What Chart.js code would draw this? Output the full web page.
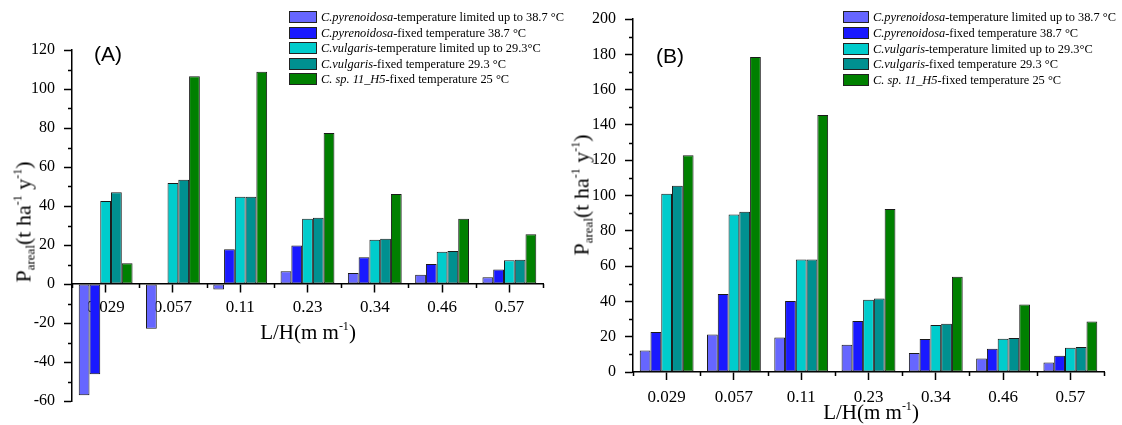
<!DOCTYPE html>
<html>
<head>
<meta charset="utf-8">
<script src="https://cdn.jsdelivr.net/npm/chart.js@4.4.1/dist/chart.umd.min.js"></script>
<style>
  body { margin: 0; background: #fff; }
  #wrap { position: relative; width: 1122px; height: 425px; overflow: hidden; background: #fff; }
  canvas { position: absolute; top: 0; }
  .txt { position: absolute; font-family: 'Liberation Serif', 'Times New Roman', serif; color: #000; white-space: nowrap; line-height: 1; }
  .ytitle { font-size: 22px; transform: translate(-50%, -50%) rotate(-90deg); }
  .xtitle { font-size: 21px; transform: translate(-50%, -50%); }
  .ytitle sub, .xtitle sub { font-size: 13px; vertical-align: -4px; }
  .ytitle sup, .xtitle sup { font-size: 12px; vertical-align: 9px; }
  .panel { position: absolute; font-family: 'Liberation Sans', Arial, sans-serif; font-size: 21px; transform: translate(-50%, -50%); }
  .legend { position: absolute; font-family: 'Liberation Serif', 'Times New Roman', serif; font-size: 12.4px; }
  .legend .row { position: absolute; left: 0; height: 14px; white-space: nowrap; }
  .legend .box { position: absolute; top: 0; width: 27px; height: 12px; border: 1px solid #222; box-sizing: border-box; }
  .legend .lbl { position: absolute; top: -1px; line-height: 14px; }
</style>
</head>
<body>
<div id="wrap">
  <canvas id="chartA" width="561" height="425" style="left:0"></canvas>
  <canvas id="chartB" width="561" height="425" style="left:561px"></canvas>
</div>
<script>
// categories (L/H, m m-1)
const categories = ['0.029', '0.057', '0.11', '0.23', '0.34', '0.46', '0.57'];

// legend text: species (italic) + rest
const speciesNames = ['C.pyrenoidosa', 'C.pyrenoidosa', 'C.vulgaris', 'C.vulgaris', 'C. sp. 11_H5'];
const labelRest = [
  '-temperature limited up to 38.7 \u00B0C',
  '-fixed temperature 38.7 \u00B0C',
  '-temperature limited up to 29.3\u00B0C',
  '-fixed temperature 29.3 \u00B0C',
  '-fixed temperature 25 \u00B0C'
];
const colors = ['#6666FF', '#1919FF', '#00CCCC', '#009090', '#008000'];

// panel (A)
const aPyrLimited = [-57, -22.9, -2.8, 6.5, 5.7, 4.8, 3.4];
const aPyrFixed = [-46.3, 0, 17.8, 19.8, 13.7, 10.2, 7.4];
const aVulLimited = [42.6, 51.8, 44.8, 33.4, 22.7, 16.6, 12.2];
const aVulFixed = [47, 53.4, 44.8, 34, 23.2, 16.9, 12.5];
const aSp = [10.7, 106.5, 108.8, 77.4, 46.1, 33.4, 25.5];

// panel (B)
const bPyrLimited = [12.2, 21.2, 19.6, 15.4, 10.7, 7.7, 5.4];
const bPyrFixed = [22.6, 44.2, 40.2, 28.9, 18.7, 13.2, 9.2];
const bVulLimited = [101, 89.3, 63.7, 40.9, 26.6, 18.9, 13.8];
const bVulFixed = [105.5, 90.8, 63.7, 41.7, 27.3, 19.2, 14.1];
const bSp = [122.8, 178.5, 145.6, 92.3, 54, 38.3, 28.6];

const serif = "'Liberation Serif', 'Times New Roman', serif";

function makeDatasets(series) {
  return series.map((d, i) => ({
    label: speciesNames[i] + labelRest[i],
    data: d,
    backgroundColor: colors[i],
    borderColor: '#1a1a1a',
    borderWidth: 1,
    borderSkipped: false
  }));
}

// small ticks between the labelled ones
const minorTicks = {
  id: 'minorTicks',
  afterDraw(chart) {
    const ctx = chart.ctx;
    const x = chart.scales.x, y = chart.scales.y;
    const base = y.getPixelForValue(0);
    ctx.save();
    ctx.strokeStyle = '#000';
    ctx.lineWidth = 1.5;
    ctx.beginPath();
    const step = y.options.ticks.stepSize;
    for (let v = y.min + step / 2; v < y.max; v += step) {
      const py = Math.round(y.getPixelForValue(v)) + 0.5;
      ctx.moveTo(y.right - 4, py);
      ctx.lineTo(y.right, py);
    }
    const half = (x.getPixelForValue(1) - x.getPixelForValue(0)) / 2;
    for (let i = 0; i <= categories.length; i++) {
      const px = Math.round(x.getPixelForValue(i) - half) + 0.5;
      ctx.moveTo(px, base);
      ctx.lineTo(px, base + 4);
    }
    ctx.stroke();
    ctx.restore();
  }
};

function makeChart(id, series, yMin, yMax, atZero, padding, labelPad) {
  const xScale = {
    type: 'category',
    offset: true,
    z: 1,
    grid: { display: true, drawOnChartArea: false, offset: false, tickLength: 8, tickWidth: 1.5, tickColor: '#000' },
    border: { display: true, color: '#000', width: 1.5 },
    ticks: { color: '#000', font: { family: serif, size: 17 }, padding: labelPad, maxRotation: 0, autoSkip: false }
  };
  if (atZero) {
    xScale.position = { y: 0 };
  } else {
    xScale.position = 'bottom';
    xScale.afterFit = s => { s.height = 53; };
  }
  return new Chart(document.getElementById(id), {
    type: 'bar',
    data: { labels: categories, datasets: makeDatasets(series) },
    options: {
      responsive: false,
      animation: false,
      categoryPercentage: 0.8,
      barPercentage: 1.0,
      layout: { padding: padding },
      scales: {
        x: xScale,
        y: {
          min: yMin,
          max: yMax,
          afterFit: s => { s.width = 72; },
          grid: { display: true, drawOnChartArea: false, tickLength: 8, tickWidth: 1.5, tickColor: '#000' },
          border: { display: true, color: '#000', width: 1.5 },
          ticks: { stepSize: 20, color: '#000', font: { family: serif, size: 16 }, padding: 9 }
        }
      },
      plugins: {
        legend: { display: false },
        tooltip: { enabled: false }
      }
    },
    plugins: [minorTicks]
  });
}

makeChart('chartA', [aPyrLimited, aPyrFixed, aVulLimited, aVulFixed, aSp], -60, 120, true,
  { top: 50, bottom: 24, left: 0, right: 18 }, 5);
makeChart('chartB', [bPyrLimited, bPyrFixed, bVulLimited, bVulFixed, bSp], 0, 200, false,
  { top: 19, bottom: 0, left: 0, right: 18 }, 7);

// html overlays: legends, axis titles, panel letters
const wrap = document.getElementById('wrap');
function addText(cls, html, left, top) {
  const d = document.createElement('div');
  d.className = cls;
  d.innerHTML = html;
  d.style.left = left + 'px';
  d.style.top = top + 'px';
  wrap.appendChild(d);
}
function addLegend(left, top, gap, boxW) {
  const lg = document.createElement('div');
  lg.className = 'legend';
  lg.style.left = left + 'px';
  lg.style.top = top + 'px';
  speciesNames.forEach((sp, i) => {
    const row = document.createElement('div');
    row.className = 'row';
    row.style.top = (i * gap) + 'px';
    row.innerHTML = '<span class="box" style="width:' + boxW + 'px;background:' + colors[i] + '"></span>' +
      '<span class="lbl" style="left:' + (boxW + 4) + 'px"><i>' + sp + '</i>' + labelRest[i] + '</span>';
    lg.appendChild(row);
  });
  wrap.appendChild(lg);
}

const yTitle = 'P<sub>areal</sub>(t ha<sup>-1</sup> y<sup>-1</sup>)';
const xTitle = 'L/H(m m<sup>-1</sup>)';
addText('txt ytitle', yTitle, 24, 222);
addText('txt ytitle', yTitle, 582, 195);
addText('txt xtitle', xTitle, 308, 331);
addText('txt xtitle', xTitle, 871, 411);
addText('panel', '(A)', 108, 54);
addText('panel', '(B)', 670, 56);
addLegend(289, 11, 15.5, 28);
addLegend(843, 11, 15.75, 26);
</script>
</body>
</html>
